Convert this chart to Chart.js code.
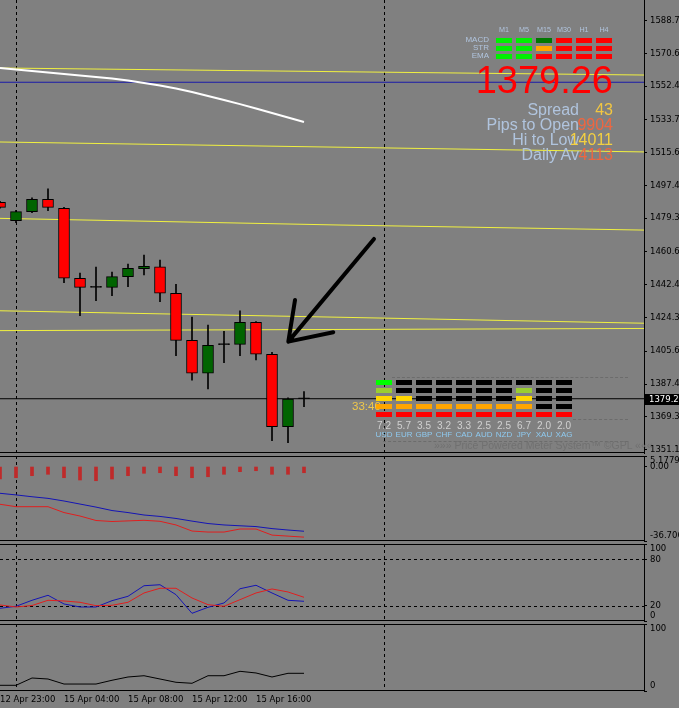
<!DOCTYPE html>
<html>
<head>
<meta charset="utf-8">
<script src="https://cdn.jsdelivr.net/npm/chart.js@4.4.1/dist/chart.umd.min.js"></script>
<style>
html,body{margin:0;padding:0;}
body{background:#808080;width:679px;height:708px;overflow:hidden;}
#wrap{position:relative;width:679px;height:708px;background:#808080;overflow:hidden;}
#wrap canvas{position:absolute;left:0;}
#ov{position:absolute;left:0;top:0;width:679px;height:708px;pointer-events:none;}
.t{position:absolute;line-height:0;white-space:nowrap;font-family:'Liberation Sans',Arial,sans-serif;}
.cell{position:absolute;width:16px;height:5px;}
.dl{position:absolute;height:0;border-top:1px dashed #6c6c6c;}
</style>
</head>
<body>
<div id="wrap">
<canvas id="cMain" width="679" height="458" style="top:0px"></canvas>
<canvas id="cMacd" width="679" height="100" style="top:450px"></canvas>
<canvas id="cStoch" width="679" height="90" style="top:538px"></canvas>
<canvas id="cLow" width="679" height="91" style="top:617px"></canvas>
<div id="ov"></div>
</div>
<script>
// ---------------- DATA ----------------
const candleIdx = [0,1,2,3,4,5,6,7,8,9,10,11,12,13,14,15,16,17,18,19];
const openP  = [1488.1,1477.9,1482.9,1489.8,1484.8,1446.0,1441.0,1441.0,1446.9,1451.3,1452.4,1437.7,1411.6,1393.4,1409.2,1409.4,1421.6,1403.9,1363.8,1379.26];
const highP  = [1488.6,1483.6,1490.5,1495.5,1485.3,1448.9,1452.2,1449.5,1453.9,1458.9,1456.1,1442.7,1424.5,1420.1,1416.6,1427.9,1422.0,1405.0,1379.7,1383.2];
const lowP   = [1484.8,1476.8,1482.3,1483.4,1443.5,1425.3,1433.6,1436.3,1441.3,1447.8,1433.0,1403.1,1389.6,1384.7,1399.2,1403.1,1400.7,1356.0,1354.9,1374.8];
const closeP = [1485.3,1482.9,1489.8,1485.3,1446.0,1441.0,1441.0,1446.9,1451.5,1452.6,1437.7,1411.6,1393.4,1408.9,1409.2,1421.6,1403.9,1363.8,1379.1,1379.26];
const maWhite = [1562.5,1561.7,1560.8,1560.0,1559.2,1558.3,1557.5,1556.7,1555.6,1554.2,1552.8,1551.1,1549.2,1547.0,1544.8,1542.5,1540.1,1537.6,1535.1,1532.6];

const lvlA_x = [0, 40.25],        lvlA_y = [1562.5, 1558.6];
const lvlB_x = [0, 40.25],        lvlB_y = [1521.5, 1516.0];
const lvlC_x = [0, 21.25, 40.25], lvlC_y = [1479.2, 1475.5, 1472.7];
const lvlD_x = [0, 21.25, 40.25], lvlD_y = [1428.0, 1424.4, 1421.1];
const lvlE_x = [0, 40.25],        lvlE_y = [1417.0, 1418.2];
const blueLvl_x = [0, 40.25],     blueLvl_y = [1554.6, 1554.6];
const bidPrice = 1379.26;
const bidLabel = "1379.26";
const arrowX = [23.375, 18.02, 18.44, 18.02, 20.83];
const arrowY = [1467.8, 1410.9, 1434.0, 1410.9, 1416.1];

const priceTicks = [1588.7,1570.6,1552.4,1533.7,1515.6,1497.4,1479.3,1460.6,1442.4,1424.3,1405.6,1387.4,1369.3,1351.1];
const priceTickLabels = ["1588.7","1570.6","1552.4","1533.7","1515.6","1497.4","1479.3","1460.6","1442.4","1424.3","1405.6","1387.4","1369.3","1351.1"];

const macdHist = [-6.16,-5.52,-4.53,-3.84,-5.52,-6.65,-7.00,-6.16,-4.53,-3.35,-3.06,-4.53,-5.52,-5.03,-3.84,-2.56,-2.07,-3.84,-3.84,-3.06];
const macdBlue = [-13.2,-14.0,-14.9,-15.7,-17.0,-18.5,-20.0,-21.7,-22.7,-23.9,-24.6,-25.6,-26.9,-28.1,-28.8,-29.2,-29.6,-30.6,-31.3,-31.9];
const macdRed  = [-18.6,-19.8,-19.8,-19.8,-22.7,-24.4,-26.6,-27.1,-26.8,-26.5,-27.0,-28.8,-31.8,-32.3,-32.3,-30.8,-30.8,-33.8,-34.3,-34.8];
const macdTicks = [5.1779, 0, -36.706];
const macdTickLabels = [["","5.1779"], "0.00", ["-36.706",""]];

const stochMain = [16.5,19.1,26.9,33.4,22.1,18.2,18.2,26.4,32.1,45.8,47.1,34.2,10.0,17.8,23.4,41.9,46.4,36.4,26.9,25.6];
const stochSig  = [20.8,18.2,20.1,26.9,26.0,24.3,19.9,20.4,24.3,36.4,42.5,42.5,29.9,21.2,19.1,27.7,36.4,41.6,37.7,30.8];
const stochTicks = [100, 80, 20, 0];
const stochTickLabels = [["","100"], "80", "20", ["0",""]];
const stochLevels = [20, 80];

const lowLine = [8.5,8.5,19.4,17.9,10.4,10.4,10.4,16.0,20.9,22.8,17.9,13.0,11.5,22.8,22.8,29.4,26.9,20.9,26.4,26.4];
const lowTicks = [100, 0];
const lowTickLabels = [["","100"], ["0",""]];

const xTickPos = [0, 4, 8, 12, 16];
const xTickLabels = ["12 Apr 23:00","15 Apr 04:00","15 Apr 08:00","15 Apr 12:00","15 Apr 16:00"];
const separatorX = [1, 24];

// widget data
const tfNames = ["M1","M5","M15","M30","H1","H4"];
const sigRowNames = ["MACD","STR","EMA"];
const sigMACD = ["#00f000","#00f000","#007800","#ff0000","#ff0000","#ff0000"];
const sigSTR  = ["#00f000","#00f000","#ffa500","#ff0000","#ff0000","#ff0000"];
const sigEMA  = ["#00f000","#00f000","#ff0000","#ff0000","#ff0000","#ff0000"];
const infoLabels = ["Spread","Pips to Open","Hi to Low","Daily Av"];
const infoValues = ["43","9904","14011","4113"];
const infoValueColors = ["#f2c640","#ee6640","#f4d040","#ee6640"];
const meterNames = ["USD","EUR","GBP","CHF","CAD","AUD","NZD","JPY","XAU","XAG"];
const meterValues = ["7.2","5.7","3.5","3.2","3.3","2.5","2.5","6.7","2.0","2.0"];
const meterLevels = [5,3,2,2,2,2,2,4,1,1];
const meterLevelColors = ["#ff0000","#ffa500","#ffd700","#9acd32","#00ff00"];
const countdown = "33:40";

// ---------------- CHARTS ----------------
const X_MAX = 40.25;
const AXIS_W = 35;
const AX_FONT = {family: "'DejaVu Sans', sans-serif", size: 8.5};
const pts = (xs, ys) => xs.map((x, i) => ({x: x, y: ys[i]}));
const series = ys => ys.map((y, i) => ({x: candleIdx[i], y: y}));

function yAxis(min, max, vals, labels) {
  return {
    type: 'linear', position: 'right', min: min, max: max, beginAtZero: false, bounds: 'data',
    afterBuildTicks: s => { s.ticks = vals.map(v => ({value: v})); },
    afterFit: s => { s.width = AXIS_W; s.paddingTop = 0; s.paddingBottom = 0; },
    grid: {drawOnChartArea: false, drawTicks: true, tickLength: 3, color: '#000', lineWidth: 1},
    border: {display: true, color: '#000', width: 1},
    ticks: {autoSkip: false, padding: 3, color: '#000', font: AX_FONT, callback: (v, i) => labels[i]}
  };
}
function xAxis(show) {
  return {
    type: 'linear', min: 0, max: X_MAX, offset: false, display: show,
    afterBuildTicks: s => { s.ticks = xTickPos.map(v => ({value: v})); },
    afterFit: s => { if (show) s.height = 17; s.paddingLeft = 0; s.paddingRight = 0; },
    grid: {drawOnChartArea: false, drawTicks: false, offset: false},
    border: {display: false},
    ticks: {autoSkip: false, align: 'start', maxRotation: 0, minRotation: 0, padding: 4, color: '#000', font: AX_FONT,
            callback: (v, i) => xTickLabels[i]}
  };
}
const sepPlugin = {
  id: 'sep',
  beforeDatasetsDraw(chart) {
    const xs = chart.scales.x, a = chart.chartArea, ctx = chart.ctx;
    ctx.save(); ctx.strokeStyle = '#000'; ctx.lineWidth = 1; ctx.setLineDash([3, 3]);
    ctx.beginPath();
    separatorX.forEach(v => { const px = Math.round(xs.getPixelForValue(v)) + 0.5; ctx.moveTo(px, a.top); ctx.lineTo(px, a.bottom); });
    ctx.stroke(); ctx.restore();
  }
};
function framePlugin(drawTop) {
  return {
    id: 'frame',
    afterDatasetsDraw(chart) {
      const a = chart.chartArea, ctx = chart.ctx;
      ctx.save(); ctx.strokeStyle = '#000'; ctx.lineWidth = 1; ctx.beginPath();
      if (drawTop) { ctx.moveTo(0, a.top + 0.5); ctx.lineTo(a.right, a.top + 0.5); }
      ctx.moveTo(0, a.bottom - 0.5); ctx.lineTo(a.right, a.bottom - 0.5);
      ctx.stroke(); ctx.restore();
    }
  };
}
const levelPlugin = {
  id: 'levels',
  beforeDatasetsDraw(chart) {
    const ys = chart.scales.y, a = chart.chartArea, ctx = chart.ctx;
    ctx.save(); ctx.strokeStyle = '#000'; ctx.lineWidth = 1; ctx.setLineDash([3, 3]); ctx.beginPath();
    stochLevels.forEach(v => { const py = Math.round(ys.getPixelForValue(v)) + 0.5; ctx.moveTo(a.left, py); ctx.lineTo(a.right, py); });
    ctx.stroke(); ctx.restore();
  }
};
const priceBoxPlugin = {
  id: 'pbox',
  afterDraw(chart) {
    const ctx = chart.ctx, a = chart.chartArea;
    const y = Math.round(chart.scales.y.getPixelForValue(bidPrice));
    ctx.save(); ctx.fillStyle = '#000'; ctx.fillRect(a.right + 1, y - 5, 40, 11);
    ctx.fillStyle = '#fff'; ctx.font = "8.5px 'DejaVu Sans'"; ctx.textBaseline = 'middle'; ctx.textAlign = 'left';
    ctx.fillText(bidLabel, a.right + 5, y + 0.5); ctx.restore();
  }
};
const common = {
  responsive: false, animation: false, devicePixelRatio: 1, events: [],
  plugins: {legend: {display: false}, tooltip: {enabled: false}}
};
const lineDs = (data, color, width, order) => ({
  type: 'line', data: data, borderColor: color, borderWidth: width, pointRadius: 0, tension: 0,
  fill: false, order: order, borderJoinStyle: 'round'
});

const bodyColors = candleIdx.map(i => closeP[i] > openP[i] ? '#006400' : (closeP[i] < openP[i] ? '#ff0000' : '#000000'));

new Chart(document.getElementById('cMain'), {
  type: 'bar',
  data: {datasets: [
    Object.assign(lineDs(pts(arrowX, arrowY), '#000', 4, 0), {borderCapStyle: 'round'}),
    {type: 'bar', data: candleIdx.map(i => ({x: i, y: [openP[i], closeP[i]]})), backgroundColor: bodyColors,
     borderColor: '#000', borderWidth: 1, borderSkipped: false, barThickness: 11, minBarLength: 1, grouped: false, order: 1},
    {type: 'bar', data: candleIdx.map(i => ({x: i, y: [lowP[i], highP[i]]})), backgroundColor: '#000',
     borderWidth: 0, barThickness: 1, grouped: false, order: 2},
    lineDs(series(maWhite), '#ffffff', 2, 3),
    lineDs(pts([0, X_MAX], [bidPrice, bidPrice]), '#000', 1, 4),
    lineDs(pts(lvlA_x, lvlA_y), '#f0f040', 1, 5),
    lineDs(pts(lvlB_x, lvlB_y), '#f0f040', 1, 5),
    lineDs(pts(lvlC_x, lvlC_y), '#f0f040', 1, 5),
    lineDs(pts(lvlD_x, lvlD_y), '#f0f040', 1, 5),
    lineDs(pts(lvlE_x, lvlE_y), '#f0f040', 1, 5),
    lineDs(pts(blueLvl_x, blueLvl_y), '#1a1aa8', 1, 5)
  ]},
  options: Object.assign({}, common, {
    layout: {padding: {top: 0, bottom: 5, left: 0, right: 0}},
    scales: {x: xAxis(false), y: yAxis(1349.2, 1600.17, priceTicks, priceTickLabels)}
  }),
  plugins: [sepPlugin, framePlugin(false), priceBoxPlugin]
});

new Chart(document.getElementById('cMacd'), {
  type: 'bar',
  data: {datasets: [
    lineDs(series(macdBlue), '#1414b4', 1, 0),
    lineDs(series(macdRed), '#e01e1e', 1, 0),
    {type: 'bar', data: series(macdHist), backgroundColor: '#bf2a2a', borderWidth: 0, barThickness: 3, grouped: false, order: 1}
  ]},
  options: Object.assign({}, common, {
    layout: {padding: {top: 6, bottom: 9, left: 0, right: 0}},
    scales: {x: xAxis(false), y: yAxis(-36.706, 5.1779, macdTicks, macdTickLabels)}
  }),
  plugins: [sepPlugin, framePlugin(true)]
});

new Chart(document.getElementById('cStoch'), {
  type: 'line',
  data: {datasets: [
    lineDs(series(stochMain), '#1414b4', 1, 1),
    lineDs(series(stochSig), '#e01e1e', 1, 0)
  ]},
  options: Object.assign({}, common, {
    layout: {padding: {top: 6, bottom: 7, left: 0, right: 0}},
    scales: {x: xAxis(false), y: yAxis(0, 100, stochTicks, stochTickLabels)}
  }),
  plugins: [sepPlugin, levelPlugin, framePlugin(true)]
});

new Chart(document.getElementById('cLow'), {
  type: 'line',
  data: {datasets: [lineDs(series(lowLine), '#000', 1, 0)]},
  options: Object.assign({}, common, {
    layout: {padding: {top: 7, bottom: 0, left: 0, right: 0}},
    scales: {x: xAxis(true), y: yAxis(0, 100, lowTicks, lowTickLabels)}
  }),
  plugins: [sepPlugin, framePlugin(true)]
});

// ---------------- OVERLAYS ----------------
const ov = document.getElementById('ov');
function txt(s, o) {
  const d = document.createElement('div');
  d.className = 't';
  d.textContent = s;
  d.style.fontSize = o.size + 'px';
  d.style.color = o.color;
  d.style.top = o.y + 'px';
  if (o.right !== undefined) d.style.right = (679 - o.right) + 'px';
  else if (o.center !== undefined) { d.style.left = o.center + 'px'; d.style.transform = 'translateX(-50%)'; }
  else d.style.left = o.left + 'px';
  ov.appendChild(d);
}
function cell(x, y, color) {
  const d = document.createElement('div');
  d.className = 'cell';
  d.style.left = x + 'px'; d.style.top = y + 'px'; d.style.background = color;
  ov.appendChild(d);
}
function dline(x1, x2, y) {
  const d = document.createElement('div');
  d.className = 'dl';
  d.style.left = x1 + 'px'; d.style.width = (x2 - x1) + 'px'; d.style.top = y + 'px';
  ov.appendChild(d);
}
// signal widget
tfNames.forEach((n, k) => txt(n, {center: 504 + 20 * k, y: 29.5, size: 7.2, color: '#b0c4de'}));
const sigRowY = [40, 48, 55.5];
sigRowNames.forEach((n, r) => txt(n, {right: 489, y: sigRowY[r], size: 8, color: '#b0c4de'}));
[sigMACD, sigSTR, sigEMA].forEach((row, r) => row.forEach((c, k) => cell(496 + 20 * k, [38, 46, 53.5][r], c)));
// big price and info
txt(bidLabel, {right: 613, y: 80, size: 38, color: '#ff0000'});
const infoY = [109.5, 124.5, 139.5, 154.5];
infoLabels.forEach((s, i) => txt(s, {right: 579, y: infoY[i], size: 16, color: '#b0c4de'}));
infoValues.forEach((s, i) => txt(s, {right: 613, y: infoY[i], size: 16, color: infoValueColors[i]}));
// currency meter
dline(392, 628, 377);
dline(573, 628, 419);
dline(383, 628, 441);
txt(countdown, {left: 352, y: 406, size: 11.5, color: '#f0c84a'});
const meterRowTop = [412, 404, 396, 388, 380];
meterNames.forEach((n, k) => {
  for (let lv = 0; lv < 5; lv++) cell(376 + 20 * k, meterRowTop[lv], lv < meterLevels[k] ? meterLevelColors[lv] : '#000000');
  txt(meterValues[k], {center: 384 + 20 * k, y: 425.7, size: 10, color: '#d0d0d0'});
  txt(n, {center: 384 + 20 * k, y: 434.5, size: 8, color: '#8ecaf0'});
});
txt("\u00bb\u00bb\u00bb Price Powered Meter System\u2122 \u00a9GPL \u00ab\u00ab\u00ab", {left: 434, y: 445, size: 10.5, color: '#707070'});
</script>
</body>
</html>
